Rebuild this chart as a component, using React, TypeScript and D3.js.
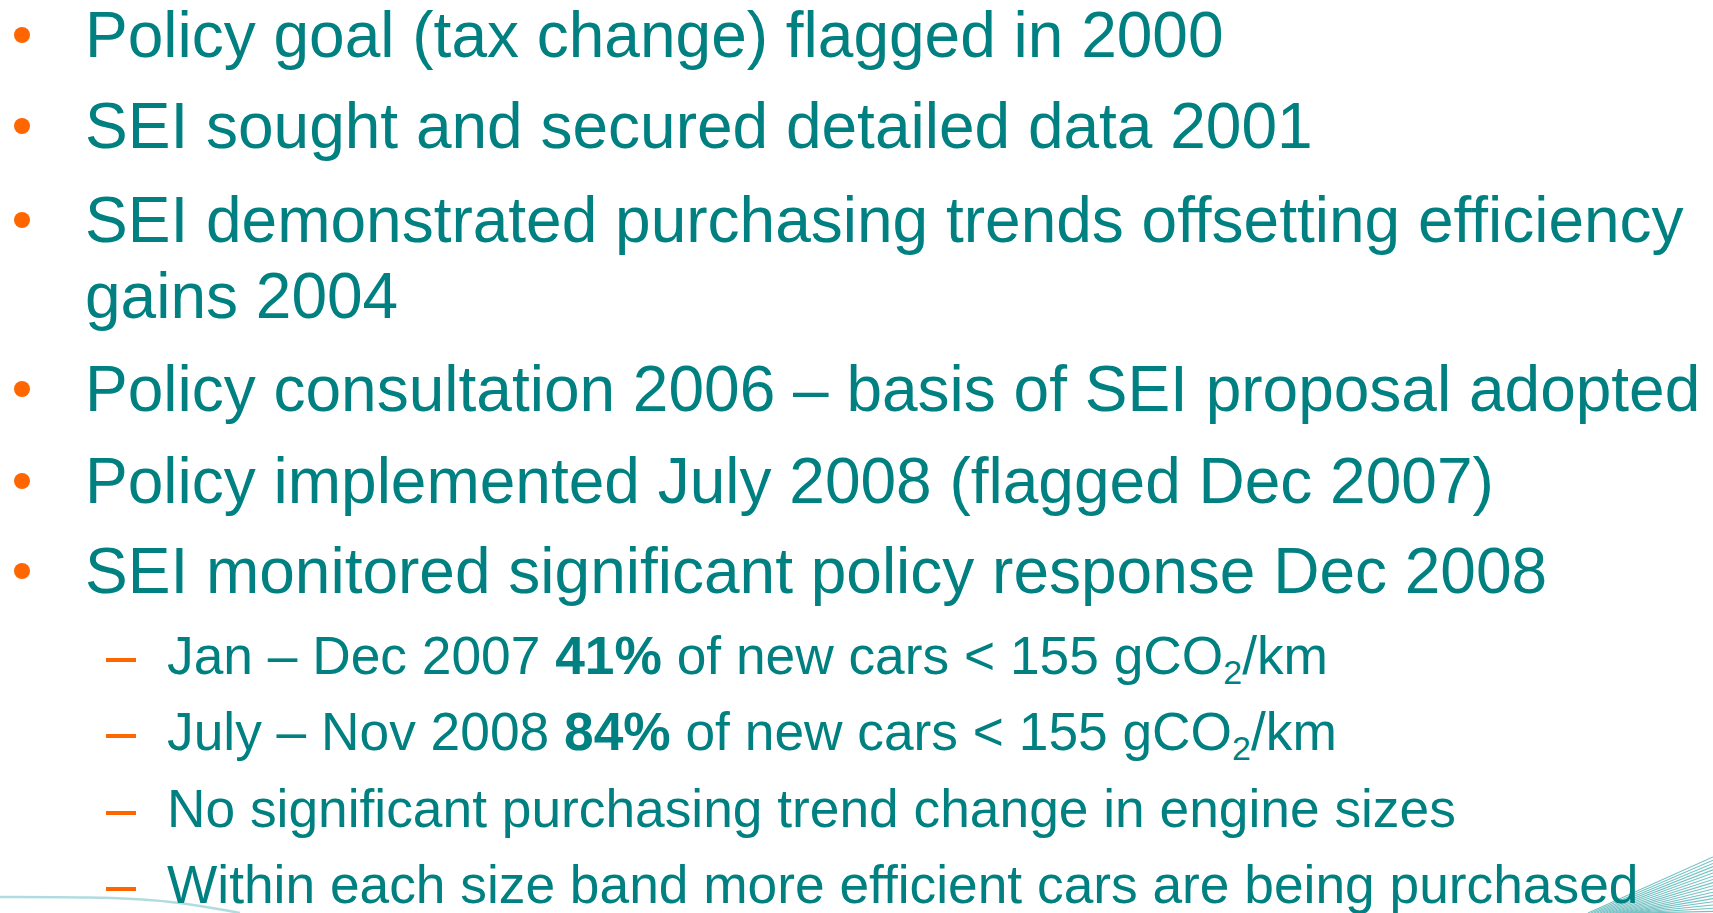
import React from "react";
import * as d3 from "d3";

type Seg = { t: string; b?: boolean; sub?: boolean };

const mainBullets: Seg[][] = [
  [{ t: "Policy goal (tax change) flagged in 2000" }],
  [{ t: "SEI sought and secured detailed data 2001" }],
  [{ t: "SEI demonstrated purchasing trends offsetting efficiency" }],
  [{ t: "gains 2004" }],
  [{ t: "Policy consultation 2006 \u2013 basis of SEI proposal adopted" }],
  [{ t: "Policy implemented July 2008 (flagged Dec 2007)" }],
  [{ t: "SEI monitored significant policy response Dec 2008" }],
];
const mainHasBullet = [true, true, true, false, true, true, true];
const mainBaselines = [57, 148, 242, 318, 411, 503, 593];

const subBullets: Seg[][] = [
  [{ t: "Jan \u2013 Dec 2007 " }, { t: "41%", b: true }, { t: " of new cars < 155 gCO" }, { t: "2", sub: true }, { t: "/km" }],
  [{ t: "July \u2013 Nov 2008 " }, { t: "84%", b: true }, { t: " of new cars < 155 gCO" }, { t: "2", sub: true }, { t: "/km" }],
  [{ t: "No significant purchasing trend change in engine sizes" }],
  [{ t: "Within each size band more efficient cars are being purchased" }],
];
const subBaselines = [674, 750, 827, 903];

const TEAL = "#008080";
const ORANGE = "#FF6600";
const FONT = "'Liberation Sans', Arial, sans-serif";

export default function App() {
  const W = 1713, H = 913;
  const x = d3.scaleLinear().domain([0, W]).range([0, W]);
  const fanLines = d3.range(18);
  const curve = d3.line().curve(d3.curveBasis)([
    [0, 897], [90, 897], [170, 900], [240, 913],
  ]) as string;
  return (
    <svg width={W} height={H} style={{ position: "absolute", left: 0, top: 0, background: "#fff" }}>
      <rect x={0} y={0} width={W} height={H} fill="#fff" />
      <path d={curve} fill="none" stroke="#a8d8dc" strokeWidth={2.5} opacity={0.9} />
      <g opacity={0.7}>
        {fanLines.map((i) => (
          <line
            key={i}
            x1={x(1588 + i * 3)}
            y1={913}
            x2={x(1713)}
            y2={857 + i * 3.2}
            stroke="#3aa8ac"
            strokeWidth={1.1}
          />
        ))}
      </g>
      {mainBullets.map((segs, i) => (
        <g key={"m" + i}>
          {mainHasBullet[i] && <circle cx={22} cy={mainBaselines[i] - 22} r={8} fill={ORANGE} />}
          <text x={85} y={mainBaselines[i]} fill={TEAL} fontFamily={FONT} fontSize={64}>
            {segs.map((s, j) => (
              <tspan key={j} fontWeight={s.b ? "bold" : "normal"}>{s.t}</tspan>
            ))}
          </text>
        </g>
      ))}
      {subBullets.map((segs, i) => (
        <g key={"s" + i}>
          <rect x={106} y={subBaselines[i] - 16} width={30} height={4} fill={ORANGE} />
          <text x={167} y={subBaselines[i]} fill={TEAL} fontFamily={FONT} fontSize={53.3}>
            {segs.map((s, j) =>
              s.sub ? (
                <tspan key={j} fontSize={34} dy={10}>{s.t}</tspan>
              ) : (
                <tspan key={j} fontWeight={s.b ? "bold" : "normal"} dy={j > 0 && segs[j - 1].sub ? -10 : 0}>{s.t}</tspan>
              )
            )}
          </text>
        </g>
      ))}
    </svg>
  );
}
